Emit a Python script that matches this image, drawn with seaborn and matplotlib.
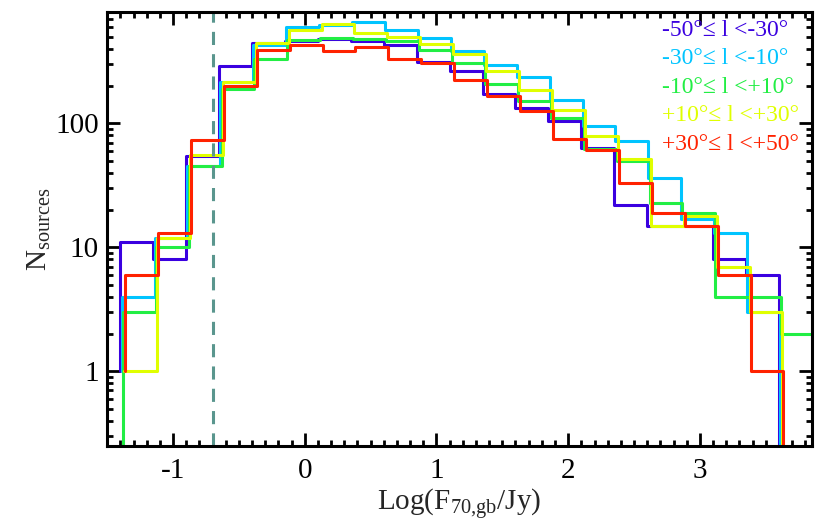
""" Flux histograms of 70 um sources in five longitude slices. """

import numpy as np
import pandas as pd
import seaborn as sns
from matplotlib import pyplot as plt
from matplotlib.ticker import MultipleLocator, FixedLocator, NullFormatter, LogLocator

########
# Data #
########
# Bin edges in Log(F70/Jy)
edges = [-1.40, -1.15, -0.90, -0.65, -0.40, -0.15, 0.10, 0.35, 0.60, 0.85, 1.10,
         1.35, 1.60, 1.85, 2.10, 2.35, 2.60, 2.85, 3.10, 3.35, 3.60, 3.85]

labels = ['-50°≤ l <-30°',
          '-30°≤ l <-10°',
          '-10°≤ l <+10°',
          '+10°≤ l <+30°',
          '+30°≤ l <+50°']

n_m50 = [11, 8, 55, 290, 448, 465, 480, 461, 431, 312, 267, 174, 134, 105, 63, 22, 15, 15, 8, 6, 0]
n_m30 = [4, 12, 45, 218, 428, 606, 625, 656, 572, 488, 386, 298, 237, 156, 95, 72, 36, 17, 13, 3, 0]
n_m10 = [3, 10, 45, 188, 334, 470, 485, 482, 461, 393, 309, 207, 151, 111, 62, 50, 23, 19, 4, 4, 2]
n_p10 = [1, 12, 56, 215, 445, 570, 630, 535, 496, 439, 365, 265, 187, 129, 79, 52, 15, 18, 7, 3, 0]
n_p30 = [6, 13, 74, 200, 393, 431, 383, 412, 332, 306, 225, 166, 126, 75, 61, 33, 19, 15, 6, 1, 0]

# level the first edge drops to
start_level = [1, 1, 0, 1, 1]

completeness = -0.70

##########
# Styles #
##########
colors = ['#3a00e0', '#00c4ff', '#22ee44', '#e0ff00', '#ff2200']
x_shift = [0.0, 0.009, 0.018, 0.027, 0.035]

sns.set_theme(style='ticks')
plt.rcParams['font.family'] = ['Liberation Serif', 'DejaVu Serif']
plt.rcParams['mathtext.fontset'] = 'custom'
plt.rcParams['mathtext.rm'] = 'Liberation Serif'
plt.rcParams['mathtext.it'] = 'Liberation Serif:italic'
plt.rcParams['mathtext.default'] = 'regular'

fig, ax = plt.subplots(figsize=(8.25, 5.32), dpi=100)
fig.subplots_adjust(left=0.130, right=0.984, top=0.977, bottom=0.162)

all_counts = [n_m50, n_m30, n_m10, n_p10, n_p30]
for i, counts in enumerate(all_counts):
    xs = [edges[0] + x_shift[i]] + [e + x_shift[i] for e in edges]
    ys = [start_level[i]] + counts + [counts[-1]]
    sns.lineplot(x=xs, y=ys, ax=ax, color=colors[i], lw=2.2,
                 drawstyle='steps-post', estimator=None, sort=False)

ax.axvline(completeness, color='#5a968e', lw=2.2, dashes=(4.3, 3.0))

ax.set_yscale('log')
ax.set_xlim(-1.5, 3.85)
ax.set_ylim(0.25, 790)

# Ticks
ax.xaxis.set_major_locator(FixedLocator([-1, 0, 1, 2, 3]))
ax.xaxis.set_minor_locator(MultipleLocator(0.1))
ax.yaxis.set_major_locator(FixedLocator([1, 10, 100]))
ax.yaxis.set_minor_locator(LogLocator(base=10, subs=np.arange(2, 10)))
ax.yaxis.set_minor_formatter(NullFormatter())
ax.set_yticklabels(['1', '10', '100'])
ax.set_xticklabels(['-1', '0', '1', '2', '3'])
ax.tick_params(which='both', direction='in', top=True, right=True, width=2.0, colors='black')
ax.tick_params(which='major', length=9.5, labelsize=21)
ax.tick_params(which='minor', length=4.5)
ax.tick_params(axis='x', which='major', pad=9)
ax.tick_params(axis='y', which='major', pad=6)
for sp in ax.spines.values():
    sp.set_linewidth(2.2)
    sp.set_color('black')

ax.set_xlabel(r'Log(F$_{70{,}gb}$/Jy)', fontsize=21, labelpad=2)
ax.set_ylabel(r'N$_{sources}$', fontsize=21, labelpad=2)

# Legend as coloured text
for i, lab in enumerate(labels):
    ax.text(0.787, 0.959 - i * 0.066, lab, transform=ax.transAxes, color=colors[i],
            fontsize=17, va='center', ha='left')

plt.savefig('out.png', dpi=100)
